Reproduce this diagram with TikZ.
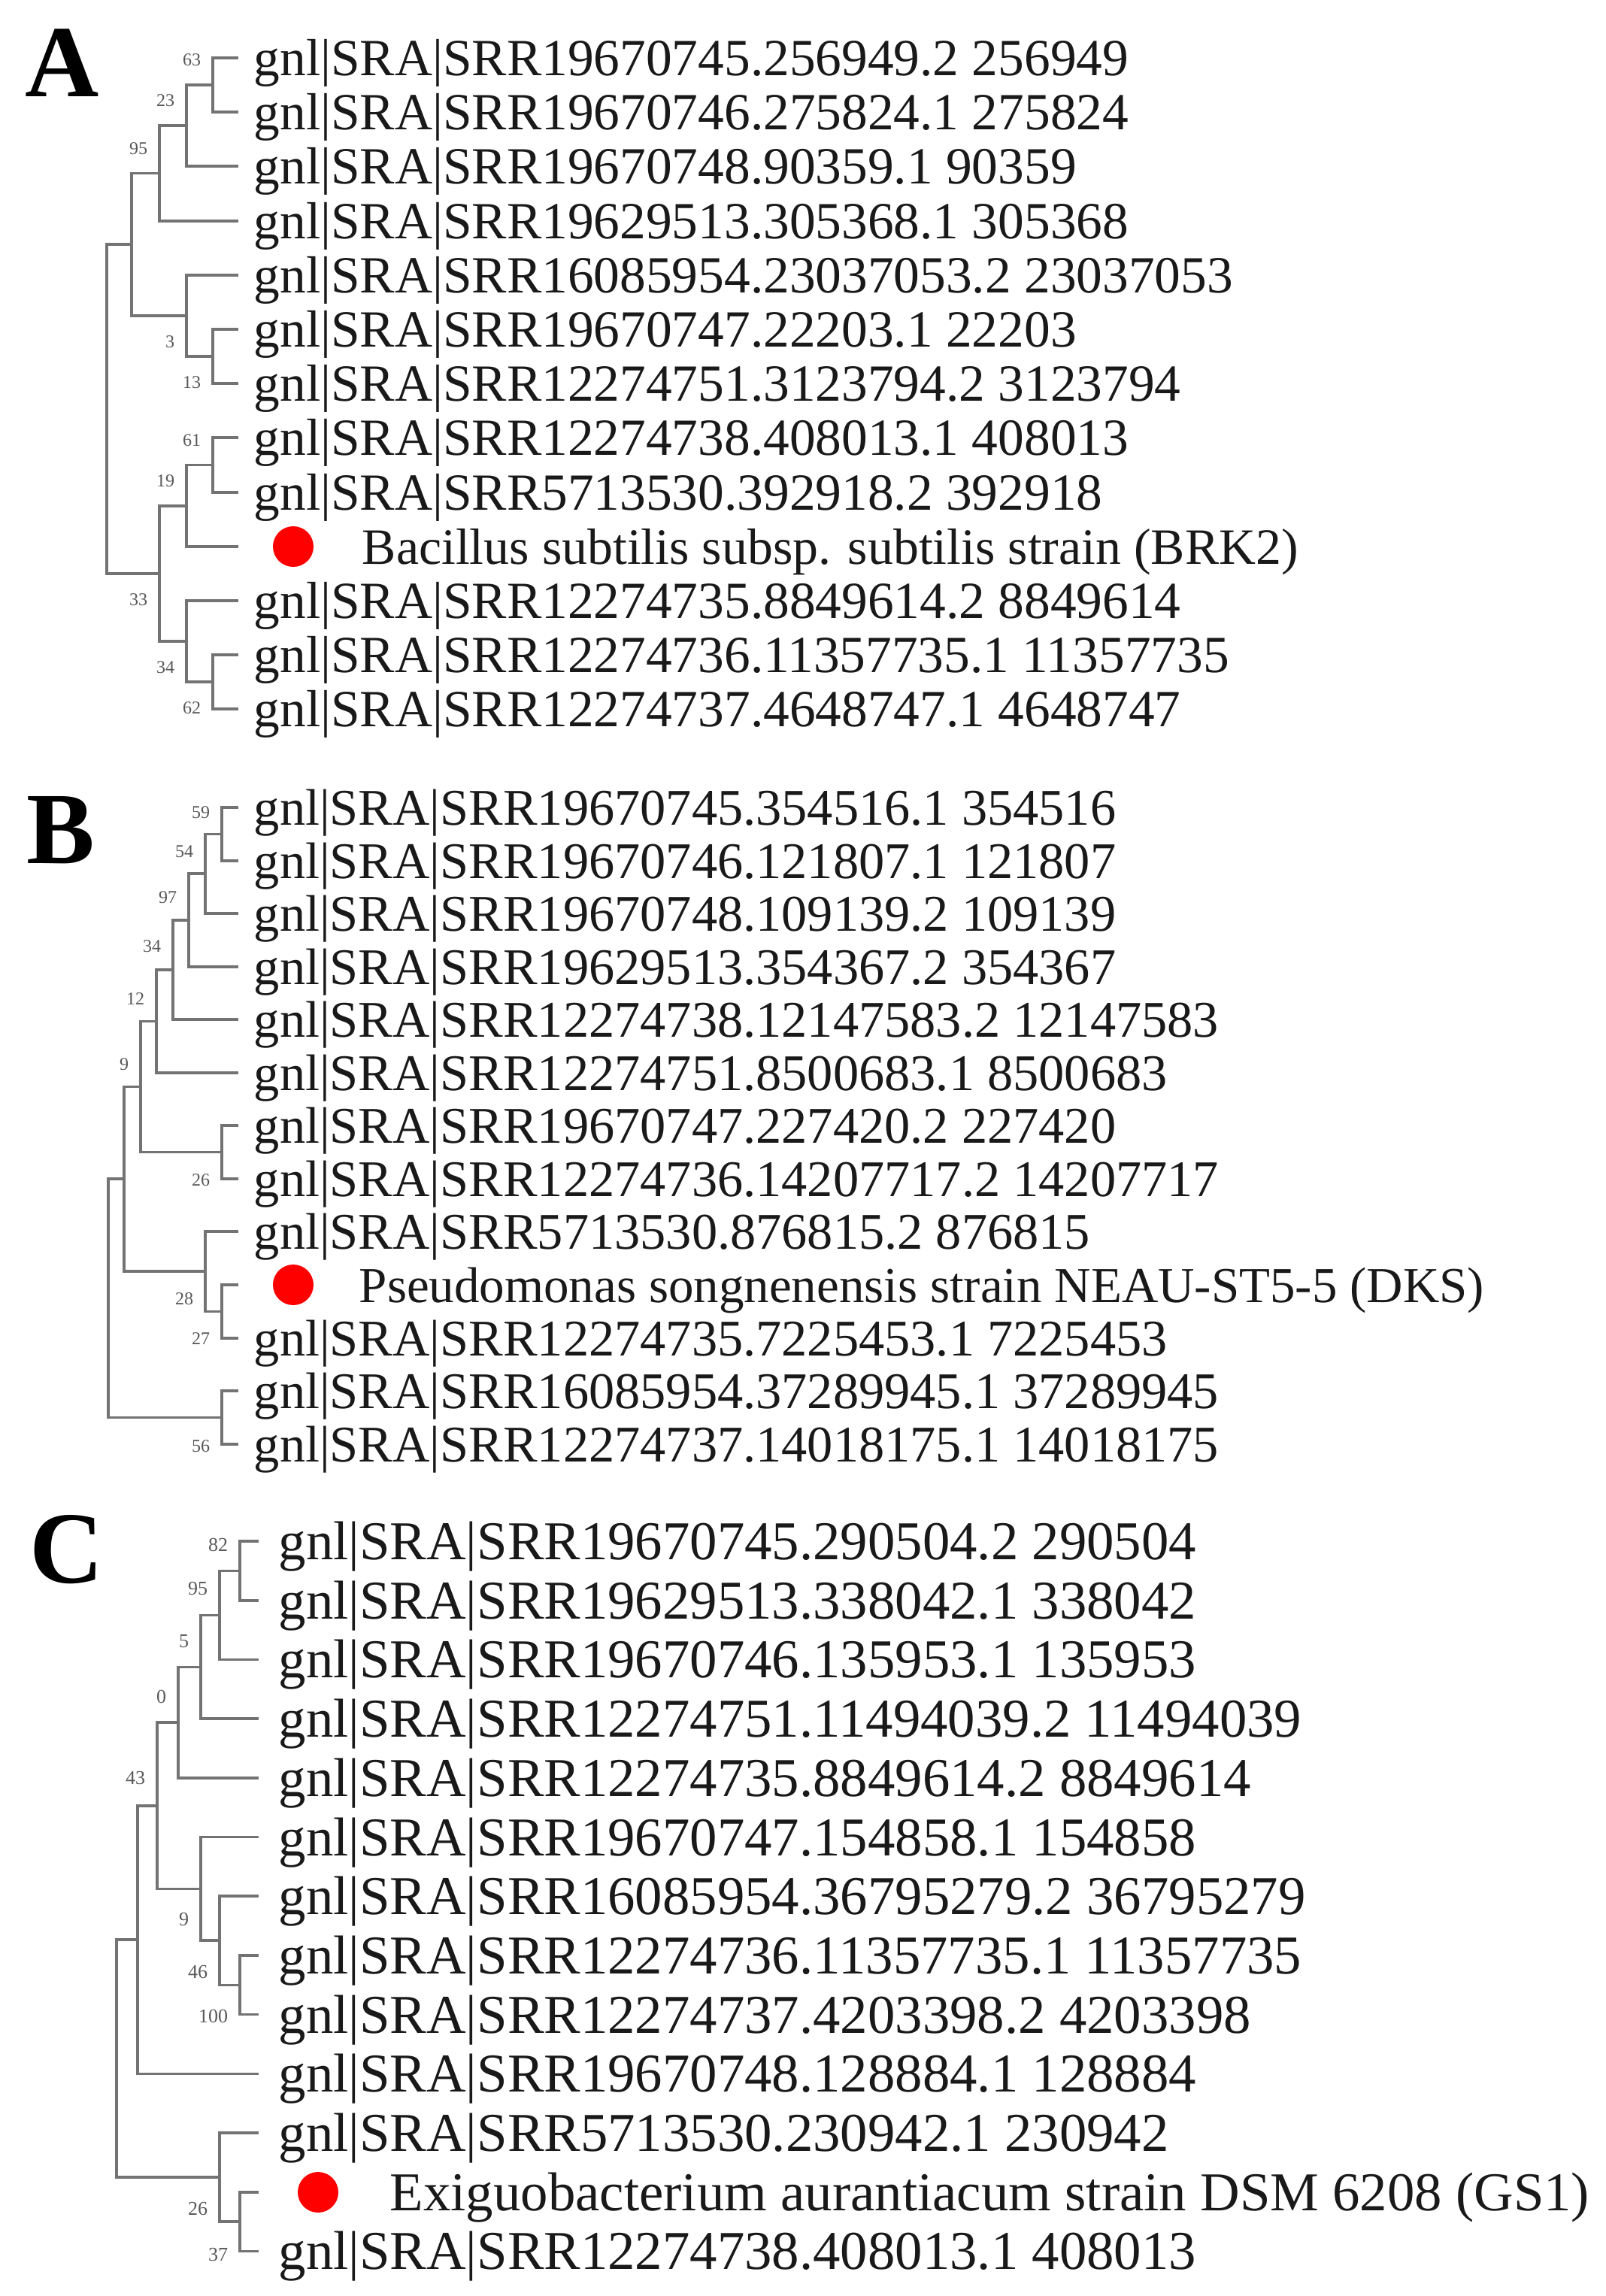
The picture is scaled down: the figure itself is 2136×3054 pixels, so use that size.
\documentclass[tikz,border=0pt]{standalone}
\usepackage{fontspec}
\setmainfont{Liberation Serif}
\begin{document}
\begin{tikzpicture}[x=0.25pt,y=-0.25pt,
  branch/.style={draw=black!55, line width=0.9pt, line cap=rect},
  leafA/.style={anchor=base west, inner sep=0pt, text=black!90, font=\fontsize{17.35}{20}\selectfont},
  leafB/.style={anchor=base west, inner sep=0pt, text=black!90, font=\fontsize{17.1}{20}\selectfont},
  leafC/.style={anchor=base west, inner sep=0pt, text=black!90, font=\fontsize{18.2}{21}\selectfont},
  nameA/.style={anchor=base west, inner sep=0pt, text=black!90, font=\fontsize{16.95}{20}\selectfont},
  nameB/.style={anchor=base west, inner sep=0pt, text=black!90, font=\fontsize{16.75}{20}\selectfont},
  bs/.style={anchor=east, inner sep=0pt, text=black!65, font=\fontsize{6}{7}\selectfont},
  bsC/.style={anchor=east, inner sep=0pt, text=black!65, font=\fontsize{6.5}{7.5}\selectfont},
  panel/.style={anchor=base west, inner sep=0pt, font=\fontsize{34}{40}\selectfont\bfseries},
  reddot/.style={circle, fill=red, draw=none, inner sep=0pt, minimum size=13.5pt}]
\fill[white] (0,0) rectangle (2136,3054);
\useasboundingbox (0,0) rectangle (2136,3054);

% ---------------- Panel A ----------------
\node[panel] (pA) at (33,128) {A};
\coordinate (la1) at (315,77);
\coordinate (la2) at (315,149);
\coordinate (la3) at (315,221);
\coordinate (la4) at (315,294);
\coordinate (la5) at (315,366);
\coordinate (la6) at (315,438);
\coordinate (la7) at (315,510);
\coordinate (la8) at (315,582);
\coordinate (la9) at (315,655);
\coordinate (la10) at (315,727);
\coordinate (la11) at (315,799);
\coordinate (la12) at (315,871);
\coordinate (la13) at (315,943);
\coordinate (a63) at (283,113);
\coordinate (a23) at (248,167);
\coordinate (a95) at (212,230.5);
\coordinate (a13) at (283,474);
\coordinate (a3) at (248,420);
\coordinate (aU) at (175,325);
\coordinate (a61) at (283,618.5);
\coordinate (a19) at (248,673);
\coordinate (a62) at (283,907);
\coordinate (a34) at (248,853);
\coordinate (a33) at (212,763);
\coordinate (aR) at (142,544);
\draw[branch] (a63) |- (la1); \draw[branch] (a63) |- (la2);
\draw[branch] (a23) |- (a63); \draw[branch] (a23) |- (la3);
\draw[branch] (a95) |- (a23); \draw[branch] (a95) |- (la4);
\draw[branch] (aU) |- (a95); \draw[branch] (aU) |- (a3);
\draw[branch] (a3) |- (la5); \draw[branch] (a3) |- (a13);
\draw[branch] (a13) |- (la6); \draw[branch] (a13) |- (la7);
\draw[branch] (aR) |- (aU); \draw[branch] (aR) |- (a33);
\draw[branch] (a33) |- (a19); \draw[branch] (a33) |- (a34);
\draw[branch] (a19) |- (a61); \draw[branch] (a19) |- (la10);
\draw[branch] (a61) |- (la8); \draw[branch] (a61) |- (la9);
\draw[branch] (a34) |- (la11); \draw[branch] (a34) |- (a62);
\draw[branch] (a62) |- (la12); \draw[branch] (a62) |- (la13);
\path (a63) ++(-15,-33) node[bs] (ba63) {63};
\path (a23) ++(-15,-33) node[bs] (ba23) {23};
\path (a95) ++(-15,-33) node[bs] (ba95) {95};
\path (a3) ++(-15,35) node[bs] (ba3) {3};
\path (a13) ++(-15,35) node[bs] (ba13) {13};
\path (a61) ++(-15,-33) node[bs] (ba61) {61};
\path (a19) ++(-15,-33) node[bs] (ba19) {19};
\path (a33) ++(-15,35) node[bs] (ba33) {33};
\path (a34) ++(-15,35) node[bs] (ba34) {34};
\path (a62) ++(-15,35) node[bs] (ba62) {62};
\node[leafA] (ta1) at (337,100) {gnl|SRA|SRR19670745.256949.2 256949};
\node[leafA] (ta2) at (337,172) {gnl|SRA|SRR19670746.275824.1 275824};
\node[leafA] (ta3) at (337,244) {gnl|SRA|SRR19670748.90359.1 90359};
\node[leafA] (ta4) at (337,317) {gnl|SRA|SRR19629513.305368.1 305368};
\node[leafA] (ta5) at (337,389) {gnl|SRA|SRR16085954.23037053.2 23037053};
\node[leafA] (ta6) at (337,461) {gnl|SRA|SRR19670747.22203.1 22203};
\node[leafA] (ta7) at (337,533) {gnl|SRA|SRR12274751.3123794.2 3123794};
\node[leafA] (ta8) at (337,605) {gnl|SRA|SRR12274738.408013.1 408013};
\node[leafA] (ta9) at (337,678) {gnl|SRA|SRR5713530.392918.2 392918};
\node[reddot] (da) at (390,727) {};
\node[nameA] (ta10) at (481,750) {Bacillus subtilis subsp. subtilis strain (BRK2)};
\node[leafA] (ta11) at (337,822) {gnl|SRA|SRR12274735.8849614.2 8849614};
\node[leafA] (ta12) at (337,894) {gnl|SRA|SRR12274736.11357735.1 11357735};
\node[leafA] (ta13) at (337,966) {gnl|SRA|SRR12274737.4648747.1 4648747};

% ---------------- Panel B ----------------
\node[panel] (pB) at (35,1148) {B};
\coordinate (lb1) at (315,1074);
\coordinate (lb2) at (315,1145);
\coordinate (lb3) at (315,1215);
\coordinate (lb4) at (315,1286);
\coordinate (lb5) at (315,1356);
\coordinate (lb6) at (315,1427);
\coordinate (lb7) at (315,1497);
\coordinate (lb8) at (315,1568);
\coordinate (lb9) at (315,1638);
\coordinate (lb10) at (315,1709);
\coordinate (lb11) at (315,1780);
\coordinate (lb12) at (315,1850);
\coordinate (lb13) at (315,1921);
\coordinate (b59) at (295,1109.5);
\coordinate (b54) at (273,1162);
\coordinate (b97) at (251,1224);
\coordinate (b34) at (230,1290);
\coordinate (b12) at (208,1358.5);
\coordinate (b26) at (295,1532.5);
\coordinate (b9) at (187,1445.5);
\coordinate (b27) at (295,1744.5);
\coordinate (b28) at (273,1691);
\coordinate (bM) at (165,1568);
\coordinate (b56) at (295,1885.5);
\coordinate (bR) at (144,1727);
\draw[branch] (b59) |- (lb1); \draw[branch] (b59) |- (lb2);
\draw[branch] (b54) |- (b59); \draw[branch] (b54) |- (lb3);
\draw[branch] (b97) |- (b54); \draw[branch] (b97) |- (lb4);
\draw[branch] (b34) |- (b97); \draw[branch] (b34) |- (lb5);
\draw[branch] (b12) |- (b34); \draw[branch] (b12) |- (lb6);
\draw[branch] (b9) |- (b12); \draw[branch] (b9) |- (b26);
\draw[branch] (b26) |- (lb7); \draw[branch] (b26) |- (lb8);
\draw[branch] (bM) |- (b9); \draw[branch] (bM) |- (b28);
\draw[branch] (b28) |- (lb9); \draw[branch] (b28) |- (b27);
\draw[branch] (b27) |- (lb10); \draw[branch] (b27) |- (lb11);
\draw[branch] (bR) |- (bM); \draw[branch] (bR) |- (b56);
\draw[branch] (b56) |- (lb12); \draw[branch] (b56) |- (lb13);
\path (b59) ++(-15,-29) node[bs] (bb59) {59};
\path (b54) ++(-15,-29) node[bs] (bb54) {54};
\path (b97) ++(-15,-30) node[bs] (bb97) {97};
\path (b34) ++(-15,-31) node[bs] (bb34) {34};
\path (b12) ++(-15,-30) node[bs] (bb12) {12};
\path (b9) ++(-15,-30) node[bs] (bb9) {9};
\path (b26) ++(-15,37) node[bs] (bb26) {26};
\path (b28) ++(-15,37) node[bs] (bb28) {28};
\path (b27) ++(-15,36) node[bs] (bb27) {27};
\path (b56) ++(-15,38) node[bs] (bb56) {56};
\node[leafB] (tb1) at (337,1097) {gnl|SRA|SRR19670745.354516.1 354516};
\node[leafB] (tb2) at (337,1168) {gnl|SRA|SRR19670746.121807.1 121807};
\node[leafB] (tb3) at (337,1238) {gnl|SRA|SRR19670748.109139.2 109139};
\node[leafB] (tb4) at (337,1309) {gnl|SRA|SRR19629513.354367.2 354367};
\node[leafB] (tb5) at (337,1379) {gnl|SRA|SRR12274738.12147583.2 12147583};
\node[leafB] (tb6) at (337,1450) {gnl|SRA|SRR12274751.8500683.1 8500683};
\node[leafB] (tb7) at (337,1520) {gnl|SRA|SRR19670747.227420.2 227420};
\node[leafB] (tb8) at (337,1591) {gnl|SRA|SRR12274736.14207717.2 14207717};
\node[leafB] (tb9) at (337,1661) {gnl|SRA|SRR5713530.876815.2 876815};
\node[reddot] (db) at (390,1709) {};
\node[nameB] (tb10) at (477,1732) {Pseudomonas songnenensis strain NEAU-ST5-5 (DKS)};
\node[leafB] (tb11) at (337,1803) {gnl|SRA|SRR12274735.7225453.1 7225453};
\node[leafB] (tb12) at (337,1873) {gnl|SRA|SRR16085954.37289945.1 37289945};
\node[leafB] (tb13) at (337,1944) {gnl|SRA|SRR12274737.14018175.1 14018175};

% ---------------- Panel C ----------------
\node[panel] (pC) at (39,2105) {C};
\coordinate (lc1) at (342,2050);
\coordinate (lc2) at (342,2128.7);
\coordinate (lc3) at (342,2207.4);
\coordinate (lc4) at (342,2286.1);
\coordinate (lc5) at (342,2364.8);
\coordinate (lc6) at (342,2443.5);
\coordinate (lc7) at (342,2522.2);
\coordinate (lc8) at (342,2600.9);
\coordinate (lc9) at (342,2679.6);
\coordinate (lc10) at (342,2758.3);
\coordinate (lc11) at (342,2837);
\coordinate (lc12) at (342,2915.7);
\coordinate (lc13) at (342,2994.4);
\coordinate (c82) at (319,2089.4);
\coordinate (c95) at (292,2148.4);
\coordinate (c5) at (267,2217.3);
\coordinate (c0) at (237,2291);
\coordinate (c100) at (319,2640.3);
\coordinate (c46) at (292,2581.2);
\coordinate (c9) at (267,2512.4);
\coordinate (c43) at (209,2401.7);
\coordinate (cM) at (183,2580);
\coordinate (c37) at (319,2955);
\coordinate (c26) at (292,2896);
\coordinate (cR) at (155,2738);
\draw[branch] (c82) |- (lc1); \draw[branch] (c82) |- (lc2);
\draw[branch] (c95) |- (c82); \draw[branch] (c95) |- (lc3);
\draw[branch] (c5) |- (c95); \draw[branch] (c5) |- (lc4);
\draw[branch] (c0) |- (c5); \draw[branch] (c0) |- (lc5);
\draw[branch] (c43) |- (c0); \draw[branch] (c43) |- (c9);
\draw[branch] (c9) |- (lc6); \draw[branch] (c9) |- (c46);
\draw[branch] (c46) |- (lc7); \draw[branch] (c46) |- (c100);
\draw[branch] (c100) |- (lc8); \draw[branch] (c100) |- (lc9);
\draw[branch] (cM) |- (c43); \draw[branch] (cM) |- (lc10);
\draw[branch] (cR) |- (cM); \draw[branch] (cR) |- (c26);
\draw[branch] (c26) |- (lc11); \draw[branch] (c26) |- (c37);
\draw[branch] (c37) |- (lc12); \draw[branch] (c37) |- (lc13);
\path (c82) ++(-15,-34) node[bsC] (bc82) {82};
\path (c95) ++(-15,-35) node[bsC] (bc95) {95};
\path (c5) ++(-15,-34) node[bsC] (bc5) {5};
\path (c0) ++(-15,-34) node[bsC] (bc0) {0};
\path (c43) ++(-15,-37) node[bsC] (bc43) {43};
\path (c9) ++(-15,41) node[bsC] (bc9) {9};
\path (c46) ++(-15,42) node[bsC] (bc46) {46};
\path (c100) ++(-15,42) node[bsC] (bc100) {100};
\path (c26) ++(-15,42) node[bsC] (bc26) {26};
\path (c37) ++(-15,44) node[bsC] (bc37) {37};
\node[leafC] (tc1) at (370,2074.5) {gnl|SRA|SRR19670745.290504.2 290504};
\node[leafC] (tc2) at (370,2153.2) {gnl|SRA|SRR19629513.338042.1 338042};
\node[leafC] (tc3) at (370,2231.9) {gnl|SRA|SRR19670746.135953.1 135953};
\node[leafC] (tc4) at (370,2310.6) {gnl|SRA|SRR12274751.11494039.2 11494039};
\node[leafC] (tc5) at (370,2389.3) {gnl|SRA|SRR12274735.8849614.2 8849614};
\node[leafC] (tc6) at (370,2468) {gnl|SRA|SRR19670747.154858.1 154858};
\node[leafC] (tc7) at (370,2546.7) {gnl|SRA|SRR16085954.36795279.2 36795279};
\node[leafC] (tc8) at (370,2625.4) {gnl|SRA|SRR12274736.11357735.1 11357735};
\node[leafC] (tc9) at (370,2704.1) {gnl|SRA|SRR12274737.4203398.2 4203398};
\node[leafC] (tc10) at (370,2782.8) {gnl|SRA|SRR19670748.128884.1 128884};
\node[leafC] (tc11) at (370,2861.5) {gnl|SRA|SRR5713530.230942.1 230942};
\node[reddot] (dc) at (423,2916) {};
\node[leafC] (tc12) at (518,2940.2) {Exiguobacterium aurantiacum strain DSM 6208 (GS1)};
\node[leafC] (tc13) at (370,3018.9) {gnl|SRA|SRR12274738.408013.1 408013};
\end{tikzpicture}
\end{document}
